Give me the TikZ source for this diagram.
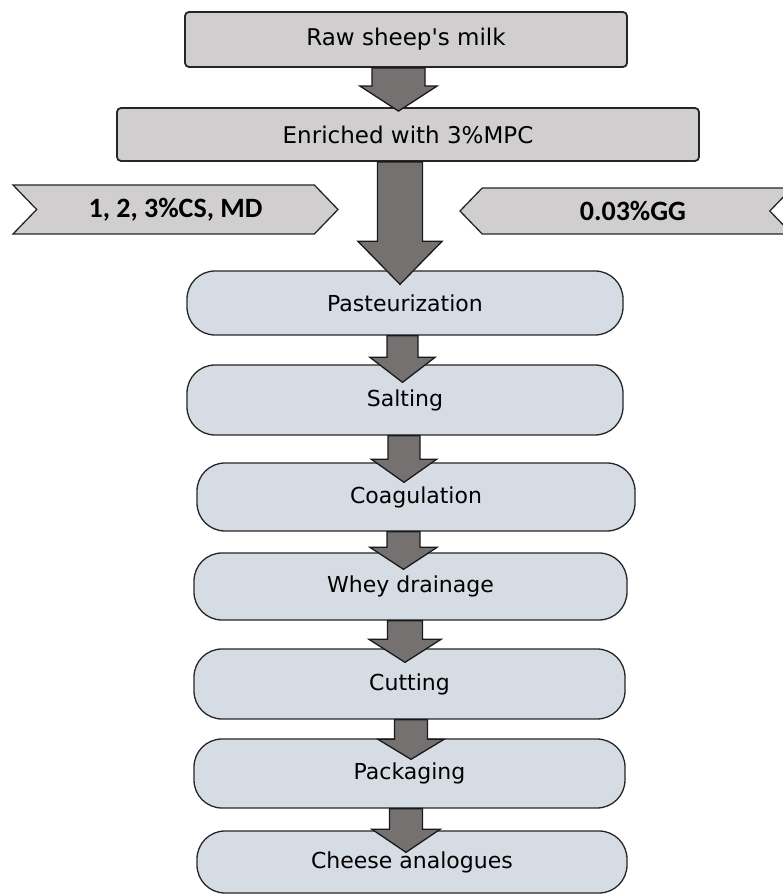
\documentclass[tikz,border=0pt]{standalone}
\usepackage{fontspec}
\setmainfont{DejaVu Sans}
\newfontfamily\chevfont{Carlito}
\usepackage{tikz}
\usetikzlibrary{positioning}
\usetikzlibrary{calc,shapes.symbols}
\usepackage{xcolor}
\definecolor{boxgrey}{HTML}{D0CECE}
\definecolor{stepblue}{HTML}{D6DCE4}
\definecolor{arrowgrey}{HTML}{767171}

% block arrow: from, to, x centre, shaft half width, head half width, head length, depth into target
\newcommand{\blockarrow}[7]{%
  \draw[arrowfill] let \p1=(#1.south), \p2=(#2.north) in
    (#3pt-#4pt,\y1) -- (#3pt+#4pt,\y1) -- (#3pt+#4pt,\y2-#7pt+#6pt) -- (#3pt+#5pt,\y2-#7pt+#6pt)
    -- (#3pt,\y2-#7pt) -- (#3pt-#5pt,\y2-#7pt+#6pt) -- (#3pt-#4pt,\y2-#7pt+#6pt) -- cycle;}

\begin{document}
\begin{tikzpicture}[
    x=1pt, y=1pt,
    greybox/.style={rectangle, rounded corners=4pt, fill=boxgrey, draw=black!85, line width=1.8pt,
    inner sep=0pt, font=\fontsize{23}{27}\selectfont},
    stepbox/.style={rectangle, rounded corners=28pt, fill=stepblue, draw=black!85, line width=1.3pt,
    inner sep=0pt, font=\fontsize{22}{26}\selectfont},
    addbox/.style={signal, signal pointer angle=92, fill=boxgrey, draw=black!85, line width=1.3pt,
    inner sep=0pt, font=\chevfont\bfseries\fontsize{28}{32}\selectfont},
    arrowfill/.style={fill=arrowgrey, draw=black!90, line width=1.3pt, line join=miter}
    ]
\useasboundingbox (0,0) rectangle (783,895);

%Milk part
\node[greybox, minimum width=442pt, minimum height=55pt] (raw) at (406,855.5) {Raw sheep\textquotesingle s milk};
\node[greybox, minimum width=582pt, minimum height=53pt] (enriched) at (408,760.5) {Enriched with 3\%MPC};

%Additives, left and right
\node[addbox, signal to=east, signal from=west, minimum width=325pt, minimum height=49pt] (additives) at (175.5,685.5) {1, 2, 3\%CS, MD};
\node[addbox, signal to=west, signal from=east, minimum width=332pt, minimum height=46pt] (gum) at (626,684) {\hspace*{14pt}0.03\%GG};

%Process steps
\node[stepbox, minimum width=436pt, minimum height=64pt] (pasteurization) at (405,592) {Pasteurization};
\node[stepbox, minimum width=436pt, minimum height=70pt] (salting) at (405,495) {Salting};
\node[stepbox, minimum width=438pt, minimum height=68pt] (coagulation) at (416,398) {Coagulation};
\node[stepbox, minimum width=433pt, minimum height=67pt] (drainage) at (410.5,308.5) {Whey drainage};
\node[stepbox, minimum width=431pt, minimum height=70pt] (cutting) at (409.5,211) {Cutting};
\node[stepbox, minimum width=431pt, minimum height=69pt] (packaging) at (409.5,121.5) {Packaging};
\node[stepbox, minimum width=430pt, minimum height=62pt] (analogues) at (412,33) {Cheese analogues};

%Arrows
\blockarrow{raw}{enriched}{398.5}{26.5}{38.5}{25}{4}
\blockarrow{enriched}{pasteurization}{400}{22.5}{42}{43}{14}
\blockarrow{pasteurization}{salting}{402.5}{15.5}{32.5}{25}{18}
\blockarrow{salting}{coagulation}{404}{16}{32.5}{23}{20}
\blockarrow{coagulation}{drainage}{403.5}{16.5}{33.5}{22}{17}
\blockarrow{drainage}{cutting}{405}{17.5}{36}{23}{14}
\blockarrow{cutting}{packaging}{411}{16.5}{33}{20}{21}
\blockarrow{packaging}{analogues}{406}{16.5}{34}{23}{22}
\end{tikzpicture}
\end{document}
